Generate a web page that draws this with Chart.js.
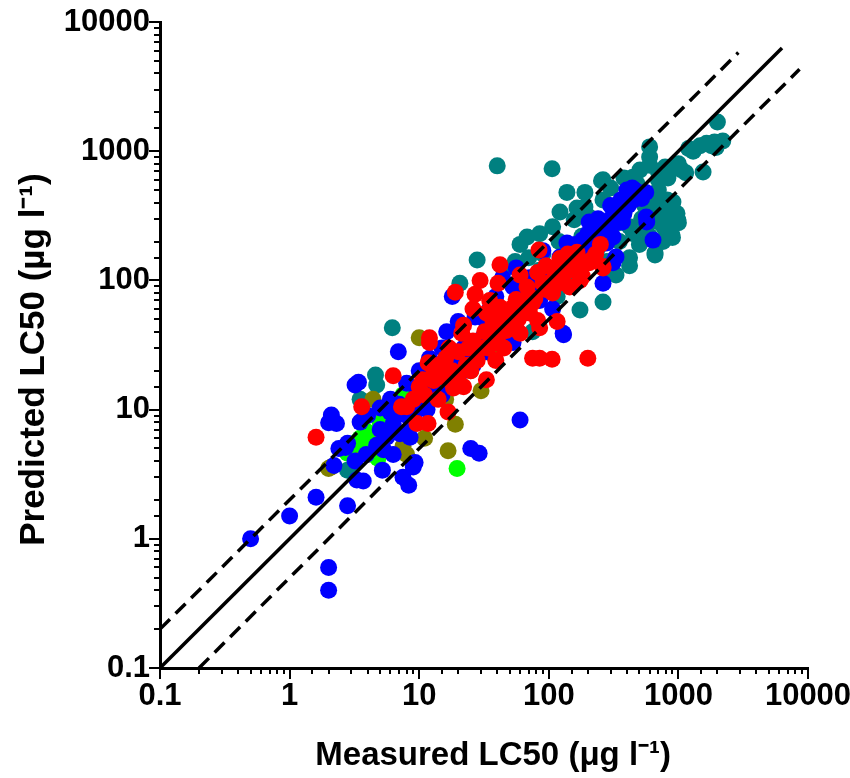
<!DOCTYPE html>
<html>
<head>
<meta charset="utf-8">
<script src="https://cdn.jsdelivr.net/npm/chart.js@4.4.1/dist/chart.umd.min.js"></script>
<style>
  body { margin: 0; background: #fff; }
  #wrap { width: 850px; height: 778px; }
</style>
</head>
<body>
<div id="wrap"><canvas id="lc50Chart"></canvas></div>
<script>
// measured vs predicted LC50 (ug/l), one array per colour group
const groupTeal = [
  [2000,1680],[1470,1100],[1650,1150],[1900,1180],[1950,1070],[1550,690],[600,1080],[505,715],
  [600,780],[790,755],[975,755],[1140,680],[700,500],[908,405],[975,330],[262,600],[262,420],
  [446,630],[690,350],[40,770],[106,730],[138,480],[190,480],[255,590],[165,363],[122,338],
  [205,310],[313,370],[350,280],[817,420],[990,294],[780,255],[900,215],[660,157],[420,150],
  [262,68],[174,59],[116,75],[68,217],[85,230],[107,260],[157,295],[190,370],[28,144],[20.6,95],
  [6.2,43],[55,140],[85,120],[138,95],[420,130],[660,163],[890,225],[1000,280],[760,200],[330,110],
  [4.6,18.5],[4.7,15.5],[3.5,12],[2.9,3.4],[2.8,3.4],[75,40],[200,150],[230,250],[550,380],
  [480,560],[380,620],[300,520],[700,700],[830,620],[1200,1050],[1300,1000],[600,900],[520,300],
  [280,140],[300,120],[6.5,11],[700,600],[760,650],[850,700],[1000,800],[1050,720],[640,420],
  [720,420],[560,250],[600,220],[450,230],[500,190],[420,260],[240,180],[180,220],[160,140],
  [120,200],[90,160],[70,150],[60,190],[45,120],[350,200],[900,350],[820,300],[760,330],
  [720,280],[1800,1100],[2200,1200]
];
const groupOlive = [
  [10,36],[16.7,4.8],[19,7.7],[4.4,12],[5,6.6],[7.5,5.2],[2.1,3.6],[16,12],[38,26],[2.0,3.5],
  [13,13],[9,9],[6,8],[11,6],[3,5],[4,4.5],[12,18],[25,20],[30,14],[8,4.5]
];
const groupGreen = [
  [19.6,3.5],[3.5,6.0],[3.8,6.3],[3.3,5.6],[4.0,5.8],[3.6,5.3],[5.0,7.9],[7.5,13],[4.8,4.2],
  [3.9,6.8],[14,15],[6,7],[2.8,4.6]
];
const groupBlue = [
  [0.5,1.0],[1.0,1.5],[1.6,2.1],[2.0,0.6],[2.0,0.4],[2.8,1.8],[60,8.3],[25,5.0],[29,4.6],[6.9,28],
  [3.2,15.5],[3.4,16.3],[2.1,9.1],[2.3,7.8],[2.0,7.9],[2.4,5.0],[2.7,5.1],[2.2,3.7],[9.3,3.9],
  [7.5,3.0],[8.3,2.6],[3.3,2.85],[3.7,2.8],[5.2,3.4],[5.3,4.9],[6.3,4.5],[3.2,4.0],[3.9,4.5],
  [2.8,5.5],[4.7,5.3],[5.6,6.1],[7.1,6.5],[8.5,6.1],[5.0,10.3],[6.0,9.5],[9.8,10],[11.5,10],
  [9.6,13.5],[12,12.5],[6.3,7.8],[8,6.8],[9,3.6],[423,480],[530,475],[400,500],[565,310],
  [350,350],[370,283],[205,283],[246,245],[313,217],[570,283],[637,205],[138,195],[182,205],
  [195,180],[280,195],[330,152],[313,137],[262,95],[122,152],[90,170],[71,105],[56,125],[44,105],
  [53,89],[39,75],[35,60],[32,50],[18,75],[20,48],[16.3,40],[27,52],[56,43],[107,60],[129,39],
  [53,33],[130,38],[15,30],[12,25],[10,20],[14,18],[20,22],[25,28],[30,35],[45,55],[60,65],
  [80,80],[100,110],[150,140],[250,260],[300,300],[450,420],[480,440],[380,400],[200,230],
  [170,170],[65,95],[40,40],[22,30],[8,16],[6,12],[4,9],[3.5,8],[14.5,18.5],
  [5,7],[6.5,9],[7,11],[8,9],[9,8],[10,12],[11,15],[13,14],[15,13],[16,20],[18,16],[19,25],
  [22,20],[24,24],[26,22],[28,32],[33,28],[36,45],[42,38],[48,50],[52,45],[58,55],[62,72],
  [68,60],[72,80],[85,70],[95,100],[110,95],[120,130],[140,120],[160,190],[180,160],[220,200],
  [240,300],[270,250],[330,280],[360,420],[410,380],[440,520],[500,450],[520,430],[380,330],
  [300,380],[460,500],[560,480]
];
const groupRed = [
  [200,25],[106,24.5],[75,25],[85,25],[16.7,9.6],[1.6,6.1],[3.6,10.5],[6.3,18.3],[7.3,10.5],
  [8.0,10.5],[9.6,7.8],[11.7,7.8],[10.6,17],[12.9,16.8],[12,33],[11.7,23],[15.2,23],[17,17],
  [21.3,39],[28,24],[30,30],[37,49],[39,24],[18.4,14.7],[33,17],[47,41],[53,62],[66,56],[82,49],
  [116,48],[84,172],[42,132],[29.5,100],[19,81],[27,78],[40.6,95],[82,115],[122,148],[165,165],
  [205,137],[262,125],[138,117],[182,107],[145,89],[107,100],[107,80],[68,89],[56,71],[75,67],
  [71,56],[53,50],[42,62],[33,56],[39,43],[60,39],[85,43],[12,36],[215,145],[174,100],
  [262,128],[25,20],[20,28],[45,30],[22,15],[14,12],
  [10,15],[11,13],[13,20],[15,18],[16,25],[18,20],[20,18],[23,22],[24,30],[26,34],[28,28],
  [32,40],[34,30],[36,38],[40,35],[44,48],[48,52],[50,44],[55,58],[58,50],[62,60],[65,70],
  [70,75],[78,72],[90,95],[95,85],[100,92],[110,120],[125,105],[150,130],[160,150],[180,140],
  [230,160],[14,22],[17,30],[9,12],[22,45],[26,60],[35,70],[60,110],[120,95],[140,160],
  [250,190],[95,130]
];
// 1:1 line and factor-of-two lines
const lineOneToOne = [[0.1,0.1],[6300,6300]];
const lineUpper = [[0.1,0.2],[2900,5800]];
const lineLower = [[0.2,0.1],[8600,4300]];

const decadeLabels = ['0.1','1','10','100','1000','10000'];

const pts = arr => arr.map(p => ({x: p[0], y: p[1]}));
const isDecade = v => Math.abs(Math.log10(v) - Math.round(Math.log10(v))) < 1e-6;
const decadeLabel = v => isDecade(v) ? decadeLabels[Math.round(Math.log10(v)) + 1] : '';

function dotSet(data, color, order) {
  return {
    type: 'scatter',
    data: pts(data),
    backgroundColor: color,
    borderColor: color,
    borderWidth: 0,
    pointRadius: 8.5,
    pointHoverRadius: 8.5,
    order: order
  };
}
function refLine(data, dash) {
  return {
    type: 'line',
    data: pts(data),
    borderColor: '#000',
    borderWidth: 3.5,
    borderDash: dash,
    pointRadius: 0,
    fill: false,
    order: 0
  };
}

// outside tick marks, long at decades
const tickMarks = {
  id: 'tickMarks',
  afterDraw(chart) {
    const ctx = chart.ctx;
    ctx.save();
    ctx.strokeStyle = '#000';
    ctx.lineWidth = 2;
    ['x', 'y'].forEach(id => {
      const s = chart.scales[id];
      s.ticks.forEach(t => {
        const len = isDecade(t.value) ? 11 : 6;
        const p = Math.round(s.getPixelForValue(t.value));
        ctx.beginPath();
        if (id === 'x') { ctx.moveTo(p, s.top); ctx.lineTo(p, s.top + len); }
        else { ctx.moveTo(s.right, p); ctx.lineTo(s.right - len, p); }
        ctx.stroke();
      });
    });
    ctx.restore();
  }
};

const fontFamily = '"Liberation Sans", Arial, sans-serif';

new Chart(document.getElementById('lc50Chart'), {
  type: 'scatter',
  data: {
    datasets: [
      refLine(lineOneToOne, []),
      refLine(lineUpper, [14, 8]),
      refLine(lineLower, [14, 8]),
      dotSet(groupRed, '#ff0000', 1),
      dotSet(groupBlue, '#0000ff', 2),
      dotSet(groupGreen, '#00ff00', 3),
      dotSet(groupOlive, '#808000', 4),
      dotSet(groupTeal, '#008080', 5)
    ]
  },
  options: {
    responsive: true,
    maintainAspectRatio: false,
    animation: false,
    layout: { padding: { left: 0, top: 22, right: 42, bottom: 0 } },
    plugins: { legend: { display: false }, tooltip: { enabled: false } },
    scales: {
      x: {
        type: 'logarithmic',
        min: 0.1,
        max: 10000,
        afterFit: s => { s.height = 110; s.paddingLeft = 0; s.paddingRight = 0; },
        grid: { display: true, drawOnChartArea: false, drawTicks: false },
        border: { display: true, color: '#000', width: 3 },
        ticks: {
          autoSkip: false, maxRotation: 0, padding: 10, color: '#000',
          font: { family: fontFamily, size: 31, weight: 'bold' },
          callback: v => decadeLabel(v)
        },
        title: {
          display: true, text: '  Measured LC50 (μg l⁻¹)', color: '#000',
          font: { family: fontFamily, size: 33, weight: 'bold' },
          padding: { top: 0, bottom: 2 }
        }
      },
      y: {
        type: 'logarithmic',
        min: 0.1,
        max: 10000,
        afterFit: s => { s.width = 160; s.paddingTop = 0; s.paddingBottom = 0; },
        grid: { display: true, drawOnChartArea: false, drawTicks: false },
        border: { display: true, color: '#000', width: 3 },
        ticks: {
          autoSkip: false, padding: 10, color: '#000',
          font: { family: fontFamily, size: 31, weight: 'bold' },
          callback: v => decadeLabel(v)
        },
        title: {
          display: true, text: 'Predicted LC50 (µg l⁻¹)   ', color: '#000',
          font: { family: fontFamily, size: 35, weight: 'bold' },
          padding: { top: 13, bottom: 0 }
        }
      }
    }
  },
  plugins: [tickMarks]
});
</script>
</body>
</html>
